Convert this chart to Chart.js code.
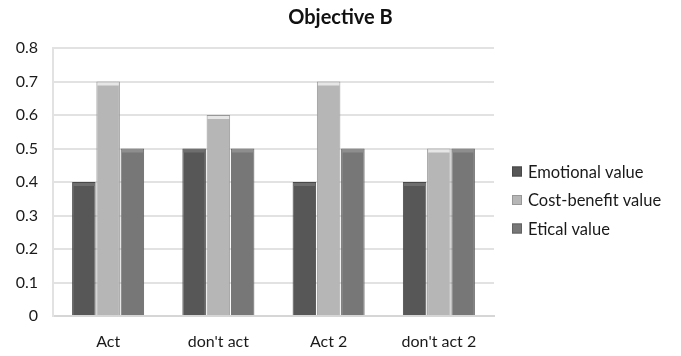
<!DOCTYPE html>
<html><head><meta charset="utf-8">
<script src="https://cdn.jsdelivr.net/npm/chart.js@4"></script>
<style>html,body{margin:0;padding:0;background:#fff;}#c{display:block;}</style>
</head><body>
<canvas id="c" width="681" height="356"></canvas>
<script>
const categories = ["Act", "don't act", "Act 2", "don't act 2"];
const emotional = [0.4, 0.5, 0.4, 0.4];
const costBenefit = [0.7, 0.6, 0.7, 0.5];
const etical = [0.5, 0.5, 0.5, 0.5];
const yTicks = [0, 0.1, 0.2, 0.3, 0.4, 0.5, 0.6, 0.7, 0.8];
const seriesNames = ['Emotional value', 'Cost-benefit value', 'Etical value'];
const chartTitle = 'Objective B';
const FONT = "Lato, 'Open Sans', sans-serif";
const capColors = ['#6e6e6e', '#e6e6e6', '#8e8e8e'];

const bevelPlugin = {
  id: 'bevel',
  afterDatasetsDraw(chart) {
    const ctx = chart.ctx;
    ctx.save();
    chart.data.datasets.forEach((ds, i) => {
      chart.getDatasetMeta(i).data.forEach(bar => {
        const left = bar.x - bar.width / 2 + 1, w = bar.width - 2;
        ctx.fillStyle = capColors[i];
        ctx.fillRect(left, bar.y + 1, w, 3);
      });
    });
    ctx.restore();
  }
};

const decorPlugin = {
  id: 'decor',
  afterDraw(chart) {
    const ctx = chart.ctx;
    ctx.save();
    ctx.font = "bold 20px " + FONT;
    ctx.textAlign = 'center';
    ctx.textBaseline = 'middle';
    ctx.fillStyle = '#111';
    ctx.fillText(chartTitle, chart.width / 2, 18);
    const x0 = chart.chartArea.right + 18;
    const yMid = 200, gap = 28.5;
    ctx.font = "16.5px " + FONT;
    ctx.textAlign = 'left';
    chart.data.datasets.forEach((ds, i) => {
      const y = yMid + (i - 1) * gap;
      ctx.fillStyle = ds.backgroundColor;
      ctx.fillRect(x0, y - 5, 10, 10);
      ctx.strokeStyle = ds.borderColor;
      ctx.lineWidth = 1;
      ctx.strokeRect(x0 + 0.5, y - 4.5, 9, 9);
      ctx.fillStyle = '#1a1a1a';
      ctx.fillText(ds.label, x0 + 16, y + 1);
    });
    ctx.restore();
  }
};

new Chart(document.getElementById('c'), {
  type: 'bar',
  data: {
    labels: categories,
    datasets: [
      {label: seriesNames[0], data: emotional, backgroundColor: '#575757', borderColor: '#484848', borderWidth: 1},
      {label: seriesNames[1], data: costBenefit, backgroundColor: '#b6b6b6', borderColor: '#989898', borderWidth: 1},
      {label: seriesNames[2], data: etical, backgroundColor: '#777777', borderColor: '#626262', borderWidth: 1}
    ]
  },
  options: {
    responsive: false,
    animation: false,
    datasets: {bar: {categoryPercentage: 0.66, barPercentage: 0.97}},
    layout: {padding: {left: 10, right: 187, top: 48, bottom: 0}},
    plugins: {
      title: {display: false},
      legend: {display: false},
      tooltip: {enabled: false}
    },
    scales: {
      x: {
        grid: {display: false, drawTicks: false},
        border: {color: '#d6d6d6', width: 2},
        ticks: {color: '#1a1a1a', font: {family: FONT, size: 16}, padding: 16},
        afterFit: (s) => { s.height = 40; }
      },
      y: {
        min: 0, max: 0.8,
        afterBuildTicks: (s) => { s.ticks = yTicks.map(v => ({value: v})); },
        grid: {color: '#e2e2e2', lineWidth: 2, drawTicks: false},
        border: {color: '#e2e2e2', width: 2},
        ticks: {color: '#1a1a1a', font: {family: FONT, size: 16}, padding: 15, callback: v => String(v)},
        afterFit: (s) => { s.width = 43; }
      }
    }
  },
  plugins: [bevelPlugin, decorPlugin]
});
</script>
</body></html>
